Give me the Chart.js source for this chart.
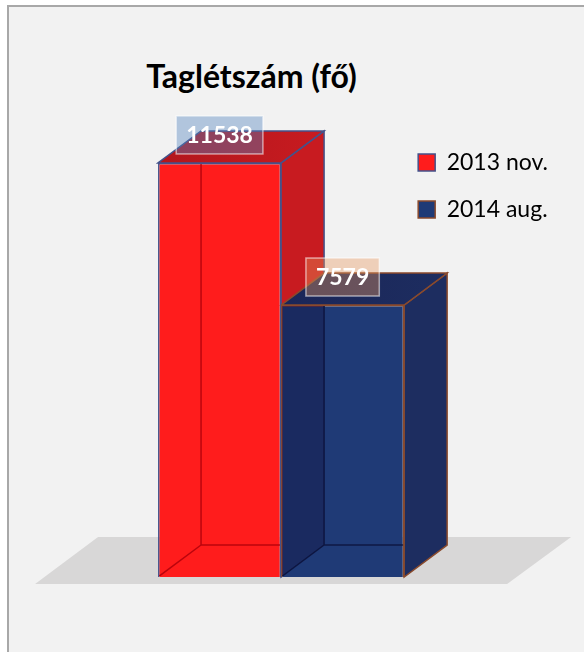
<!DOCTYPE html>
<html>
<head>
<meta charset="utf-8">
<script src="https://cdn.jsdelivr.net/npm/chart.js@4/dist/chart.umd.min.js"></script>
<style>
  html, body { margin: 0; padding: 0; background: #ffffff; width: 584px; height: 652px; overflow: hidden; }
  #card { position: absolute; left: 7px; top: 5px; width: 640px; height: 700px;
          background: #f2f2f2; border-left: 2px solid #a8a8a8; border-top: 2px solid #a8a8a8; }
  #title { position: absolute; left: 0; top: 56px; width: 503px; text-align: center;
           font-family: Lato, "Open Sans", sans-serif; font-weight: bold; font-size: 32px;
           line-height: 40px; color: #000; }
  #c { position: absolute; left: 0; top: 0; }
</style>
</head>
<body>
<div id="card"></div>
<div id="title">Taglétszám (fő)</div>
<canvas id="c" width="584" height="652"></canvas>
<script>
// ---- data ----
const categories = [''];
const seriesLabels = ['2013 nov.', '2014 aug.'];
const seriesValues = [11538, 7579];
const yMin = 0;
const yMax = 12540;

// ---- style ----
const frontColors = ['#ff1c1c', '#1f3a76'];
const topColors = ['#b2161d', '#1b2658'];
const sideColors = ['#c81b20', '#1d2d60'];
const borderColors = ['#44528a', '#8a4a2c'];
const labelFills = ['rgba(80,130,190,0.40)', 'rgba(232,150,92,0.38)'];
const DX = 43, DY = -32;

function poly(ctx, pts, fill, stroke, lw) {
  ctx.beginPath();
  ctx.moveTo(pts[0][0], pts[0][1]);
  for (let k = 1; k < pts.length; k++) ctx.lineTo(pts[k][0], pts[k][1]);
  ctx.closePath();
  if (fill) { ctx.fillStyle = fill; ctx.fill(); }
  if (stroke) { ctx.strokeStyle = stroke; ctx.lineWidth = lw || 1.5; ctx.stroke(); }
}

function bars(chart) {
  return chart.data.datasets.map((d, i) => chart.getDatasetMeta(i).data[0]);
}

const threeD = {
  id: 'threeD',
  beforeDatasetsDraw(chart) {
    const ctx = chart.ctx;
    const bs = bars(chart);
    const y0 = chart.scales.y.getPixelForValue(0);
    const left = Math.min(...bs.map(b => b.x - b.width / 2));
    const right = Math.max(...bs.map(b => b.x + b.width / 2));
    ctx.save();
    // floor
    poly(ctx, [[left - 123, y0 + 7], [right + 103, y0 + 7], [right + 167, y0 - 40], [left - 60, y0 - 40]], '#d8d7d7');
    // side and top faces
    bs.forEach((b, i) => {
      const L = b.x - b.width / 2, R = b.x + b.width / 2, T = b.y, B = b.base;
      poly(ctx, [[R, T], [R + DX, T + DY], [R + DX, B + DY], [R, B]], sideColors[i], borderColors[i], 1.5);
      const g = ctx.createLinearGradient(L, 0, R + DX, 0);
      g.addColorStop(0, topColors[i]);
      g.addColorStop(1, sideColors[i]);
      poly(ctx, [[L, T], [L + DX, T + DY], [R + DX, T + DY], [R, T]], g, borderColors[i], 1.5);
    });
    ctx.restore();
  },
  afterDatasetsDraw(chart) {
    const ctx = chart.ctx;
    const bs = bars(chart);
    ctx.save();
    bs.forEach((b, i) => {
      const L = b.x - b.width / 2, R = b.x + b.width / 2, T = b.y, B = b.base;
      ctx.save();
      ctx.beginPath();
      ctx.rect(L + 1, T + 1, R - L - 2, B - T - 2);
      ctx.clip();
      if (i === 1) {
        poly(ctx, [[L, T], [L + DX, T + DY], [L + DX, B + DY], [L, B]], 'rgba(14,10,50,0.32)');
      }
      ctx.strokeStyle = i === 0 ? 'rgba(175,0,10,0.85)' : 'rgba(10,15,55,0.8)';
      ctx.lineWidth = 1.5;
      ctx.beginPath();
      ctx.moveTo(L + DX, T + DY); ctx.lineTo(L + DX, B + DY);
      ctx.moveTo(L + DX, B + DY); ctx.lineTo(R + DX, B + DY);
      ctx.moveTo(L, B); ctx.lineTo(L + DX, B + DY);
      ctx.stroke();
      ctx.restore();
    });
    // value labels
    bs.forEach((b, i) => {
      const txt = String(chart.data.datasets[i].data[0]);
      ctx.font = 'bold 23px Lato, "Open Sans", sans-serif';
      const tw = ctx.measureText(txt).width;
      const w = tw + 20, h = 38;
      const cx = b.x, cy = b.y - 28;
      ctx.fillStyle = labelFills[i];
      ctx.fillRect(cx - w / 2, cy - h / 2, w, h);
      ctx.strokeStyle = 'rgba(255,255,255,0.55)';
      ctx.lineWidth = 1.5;
      ctx.strokeRect(cx - w / 2, cy - h / 2, w, h);
      ctx.fillStyle = '#ffffff';
      ctx.textAlign = 'center';
      ctx.textBaseline = 'middle';
      ctx.fillText(txt, cx, cy + 1);
    });
    ctx.restore();
  }
};

new Chart(document.getElementById('c'), {
  type: 'bar',
  data: {
    labels: categories,
    datasets: seriesLabels.map((lab, i) => ({
      label: lab,
      data: [seriesValues[i]],
      backgroundColor: frontColors[i],
      borderColor: borderColors[i],
      borderWidth: 1.5,
      barPercentage: 1,
      categoryPercentage: 1.088,
      clip: false
    }))
  },
  options: {
    responsive: false,
    animation: false,
    devicePixelRatio: 1,
    events: [],
    layout: { padding: { left: 168, right: 26, top: 127, bottom: 75 } },
    scales: {
      x: { display: false },
      y: { display: false, min: yMin, max: yMax }
    },
    plugins: {
      title: { display: false },
      tooltip: { enabled: false },
      legend: {
        position: 'right',
        align: 'start',
        labels: {
          boxWidth: 17,
          boxHeight: 17,
          padding: 24,
          color: '#000000',
          font: { family: 'Lato, "Open Sans", sans-serif', size: 23 }
        }
      }
    }
  },
  plugins: [threeD]
});
</script>
</body>
</html>
